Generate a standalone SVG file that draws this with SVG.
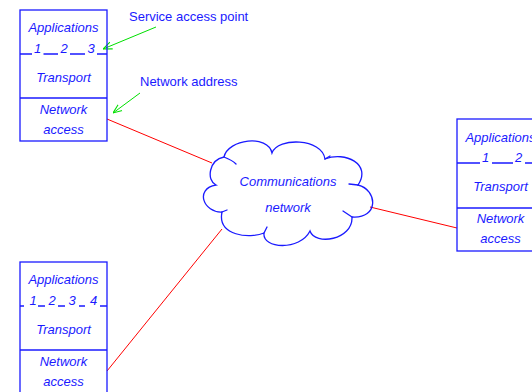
<svg xmlns="http://www.w3.org/2000/svg" width="532" height="392" viewBox="0 0 532 392">
<style>
.box{fill:none;stroke:#1a1aff;stroke-width:1.3}
.t{font-family:"Liberation Sans",Arial,sans-serif;font-size:13px;font-style:italic;fill:#1a1aff;text-anchor:middle}
.lab{font-family:"Liberation Sans",Arial,sans-serif;font-size:13px;fill:#1a1aff}
.red{stroke:#ff0000;stroke-width:1;fill:none}
.grn{stroke:#00e000;stroke-width:1;fill:none}
.cloud{fill:none;stroke:#1a1aff;stroke-width:1.3;stroke-linecap:round}
</style>
<defs>
<marker id="ah" viewBox="0 0 10 10" refX="10" refY="5" markerWidth="9" markerHeight="9" orient="auto" markerUnits="userSpaceOnUse">
<path d="M0,1 L10,5 L0,9" fill="none" stroke="#00e000" stroke-width="1.2"/>
</marker>
</defs>
<g id="connectors">
<line class="red" x1="107" y1="119" x2="212" y2="163"/>
<line class="red" x1="370" y1="207" x2="457" y2="228"/>
<line class="red" x1="222" y1="229" x2="107" y2="371"/>
<line class="grn" x1="156" y1="27" x2="103" y2="49" marker-end="url(#ah)"/>
<line class="grn" x1="140" y1="93" x2="113" y2="113" marker-end="url(#ah)"/>
</g>
<g id="host1">
<rect class="box" x="20" y="10" width="87" height="131"/>
<line class="box" x1="20" y1="98" x2="107" y2="98"/>
<path class="box" d="M20,54 H32 M43.5,54 H58 M70,54 H85 M97,54 H107"/>
<text class="t" x="63.5" y="32">Applications</text>
<text class="t" x="37.5" y="53">1</text>
<text class="t" x="64" y="53">2</text>
<text class="t" x="91" y="53">3</text>
<text class="t" x="63.5" y="82">Transport</text>
<text class="t" x="63.5" y="114">Network</text>
<text class="t" x="63.5" y="134">access</text>
</g>
<g id="host2">
<rect class="box" x="457" y="119" width="90" height="132"/>
<line class="box" x1="457" y1="208" x2="547" y2="208"/>
<path class="box" d="M457,163 H480 M492,163 H513 M525,163 H532"/>
<text class="t" x="500.5" y="142">Applications</text>
<text class="t" x="485.5" y="162">1</text>
<text class="t" x="518.5" y="162">2</text>
<text class="t" x="500.5" y="191">Transport</text>
<text class="t" x="500.5" y="223">Network</text>
<text class="t" x="500.5" y="243">access</text>
</g>
<g id="host3">
<rect class="box" x="20" y="262" width="87" height="132"/>
<line class="box" x1="20" y1="350" x2="107" y2="350"/>
<path class="box" d="M20,306 H24 M38,306 H45 M58,306 H65 M79,306 H85 M100,306 H107"/>
<text class="t" x="63.5" y="284">Applications</text>
<text class="t" x="33" y="305">1</text>
<text class="t" x="52" y="305">2</text>
<text class="t" x="72" y="305">3</text>
<text class="t" x="93.5" y="305">4</text>
<text class="t" x="63.5" y="334">Transport</text>
<text class="t" x="63.5" y="366">Network</text>
<text class="t" x="63.5" y="386">access</text>
</g>
<g id="cloud">
<path class="cloud" d="M224,157 C228,139 268,134 272,153 C278,137 322,138 325,159 C345,151 372,164 358,185 C378,190 379,219 352,217 C353,240 315,246 310,231 C300,251 262,249 264,233 C250,239 217,236 222,212 C204,213 194,189 216,185 C206,180 209,160 224,157 Z"/>
<path class="cloud" d="M224,157 C229,159 233,161 236,164 M325,159 L330,156 M358,185 L349,184 M352,217 L343,211 M264,233 L267,227 M222,212 L227,210"/>
<text class="t" x="288" y="186">Communications</text>
<text class="t" x="288" y="212">network</text>
</g>
<g id="labels">
<text class="lab" x="129" y="21">Service access point</text>
<text class="lab" x="140" y="86">Network address</text>
</g>
</svg>
